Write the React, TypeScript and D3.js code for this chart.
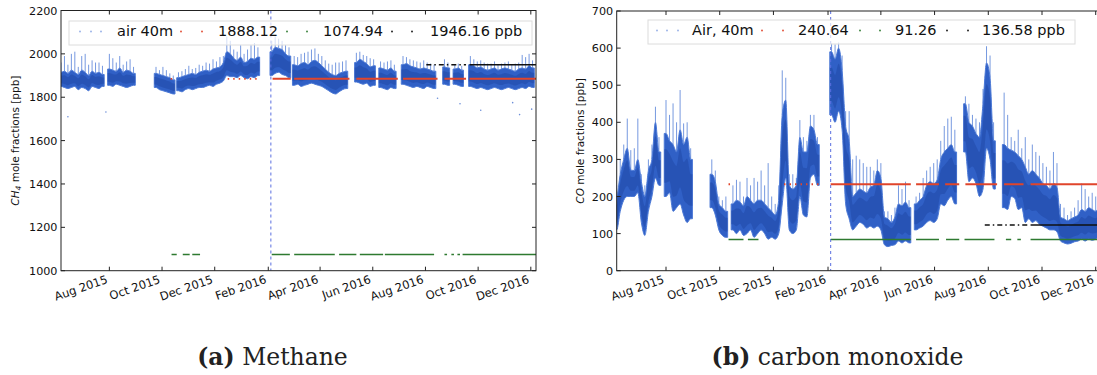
import React from "react";
import * as d3 from "d3";

// ---------- data ----------
const dateDomain = ["2015-06-06", "2016-12-07"];
const monthTicks = ["2015-08-01", "2015-10-01", "2015-12-01", "2016-02-01", "2016-04-01", "2016-06-01", "2016-08-01", "2016-10-01", "2016-12-01"];
const monthLabels = ["Aug 2015", "Oct 2015", "Dec 2015", "Feb 2016", "Apr 2016", "Jun 2016", "Aug 2016", "Oct 2016", "Dec 2016"];
const ch4Ticks = [1000, 1200, 1400, 1600, 1800, 2000, 2200];
const coTicks = [0, 100, 200, 300, 400, 500, 600, 700];
const markerDate = "2016-02-04";

const ch4Legend = ["air 40m", "1888.12", "1074.94", "1946.16 ppb"];
const coLegend = ["Air, 40m", "240.64", "91.26", "136.58 ppb"];

// reference levels as drawn [red, green, black]
const ch4Levels = [1885, 1075, 1950];
const coLevels = [233, 84, 123];

// [date, low, high, peak]
const ch4Air: [string, number, number, number][] = [
  ["2015-06-06", 1850, 1915, 1960], ["2015-06-10", 1845, 1920, 1990], ["2015-06-14", 1840, 1910, 1950],
  ["2015-06-18", 1845, 1925, 2000], ["2015-06-22", 1850, 1915, 2010], ["2015-06-26", 1835, 1905, 1940],
  ["2015-06-30", 1845, 1925, 1990], ["2015-07-04", 1840, 1915, 2000], ["2015-07-08", 1830, 1900, 1950],
  ["2015-07-12", 1850, 1920, 1970], ["2015-07-16", 1845, 1910, 1960], ["2015-07-20", 1840, 1915, 1960],
  ["2015-07-24", 1850, 1905, 1945],
  ["2015-08-01", 1855, 1930, 2000], ["2015-08-05", 1850, 1925, 1980], ["2015-08-09", 1860, 1920, 1960],
  ["2015-08-13", 1855, 1935, 1990], ["2015-08-17", 1850, 1915, 1950], ["2015-08-21", 1845, 1925, 1965],
  ["2015-08-25", 1850, 1920, 1975], ["2015-08-29", 1855, 1910, 1940],
  ["2015-09-24", 1845, 1910, 1940], ["2015-09-28", 1835, 1905, 1925], ["2015-10-02", 1830, 1900, 1940],
  ["2015-10-06", 1825, 1895, 1925], ["2015-10-10", 1820, 1890, 1910], ["2015-10-14", 1815, 1880, 1900],
  ["2015-10-20", 1830, 1890, 1915], ["2015-10-24", 1825, 1895, 1920], ["2015-10-28", 1835, 1900, 1930],
  ["2015-11-01", 1840, 1905, 1945], ["2015-11-05", 1835, 1910, 1930], ["2015-11-09", 1840, 1905, 1935],
  ["2015-11-13", 1845, 1915, 1950], ["2015-11-17", 1845, 1920, 1945], ["2015-11-21", 1850, 1925, 1960],
  ["2015-11-25", 1855, 1920, 1955], ["2015-11-29", 1850, 1930, 1975], ["2015-12-03", 1860, 1935, 1965],
  ["2015-12-07", 1865, 1940, 1985], ["2015-12-11", 1875, 1960, 1990], ["2015-12-15", 1900, 2010, 2080],
  ["2015-12-19", 1895, 2000, 2060], ["2015-12-23", 1895, 1980, 2020], ["2015-12-27", 1890, 1970, 2010],
  ["2015-12-31", 1900, 1985, 2040], ["2016-01-04", 1890, 1960, 2000], ["2016-01-08", 1885, 1965, 2020],
  ["2016-01-12", 1895, 1980, 2040], ["2016-01-16", 1890, 1975, 2050], ["2016-01-20", 1900, 1985, 2030],
  ["2016-02-05", 1900, 2010, 2060], ["2016-02-09", 1910, 2030, 2080], ["2016-02-13", 1915, 2025, 2070],
  ["2016-02-17", 1905, 2020, 2060], ["2016-02-21", 1900, 2000, 2040], ["2016-02-25", 1890, 1990, 2030],
  ["2016-03-02", 1855, 1950, 1990], ["2016-03-06", 1860, 1945, 1985], ["2016-03-10", 1850, 1955, 2000],
  ["2016-03-14", 1855, 1960, 2005], ["2016-03-18", 1860, 1950, 2010], ["2016-03-22", 1865, 1965, 2020],
  ["2016-03-26", 1860, 1970, 2025], ["2016-03-30", 1855, 1960, 2000], ["2016-04-03", 1850, 1945, 1990],
  ["2016-04-07", 1840, 1930, 1970], ["2016-04-11", 1830, 1915, 1955], ["2016-04-15", 1820, 1905, 1950],
  ["2016-04-19", 1815, 1900, 1960], ["2016-04-23", 1825, 1910, 1960], ["2016-04-27", 1835, 1915, 1965],
  ["2016-05-01", 1840, 1920, 1970],
  ["2016-05-13", 1870, 1960, 2005], ["2016-05-17", 1865, 1975, 2010], ["2016-05-21", 1860, 1965, 1995],
  ["2016-05-25", 1865, 1955, 1990], ["2016-05-29", 1850, 1940, 1980], ["2016-06-02", 1855, 1945, 1975],
  ["2016-06-10", 1845, 1935, 1965], ["2016-06-14", 1840, 1930, 1960], ["2016-06-18", 1835, 1925, 1965],
  ["2016-06-22", 1845, 1935, 1970], ["2016-06-26", 1840, 1920, 1950],
  ["2016-07-06", 1860, 1950, 1990], ["2016-07-10", 1855, 1955, 1985], ["2016-07-14", 1850, 1945, 1975],
  ["2016-07-18", 1845, 1940, 1970], ["2016-07-22", 1850, 1935, 1965], ["2016-07-26", 1845, 1930, 1960],
  ["2016-07-30", 1840, 1935, 1970], ["2016-08-03", 1850, 1930, 1960], ["2016-08-07", 1845, 1925, 1955],
  ["2016-08-11", 1840, 1920, 1950],
  ["2016-08-23", 1860, 1940, 1975], ["2016-08-27", 1855, 1935, 1960],
  ["2016-09-04", 1860, 1930, 1950], ["2016-09-08", 1855, 1935, 1955], ["2016-09-12", 1850, 1925, 1945],
  ["2016-09-22", 1850, 1950, 1990], ["2016-09-26", 1845, 1945, 1975], ["2016-09-30", 1840, 1935, 1965],
  ["2016-10-04", 1845, 1940, 1970], ["2016-10-08", 1840, 1930, 1960], ["2016-10-12", 1835, 1925, 1955],
  ["2016-10-16", 1840, 1930, 1955], ["2016-10-20", 1845, 1935, 1965], ["2016-10-24", 1840, 1925, 1950],
  ["2016-10-28", 1835, 1930, 1955], ["2016-11-01", 1840, 1935, 1960], ["2016-11-05", 1845, 1930, 1965],
  ["2016-11-09", 1840, 1925, 1950], ["2016-11-13", 1835, 1920, 1955], ["2016-11-17", 1840, 1930, 1960],
  ["2016-11-21", 1845, 1935, 1995], ["2016-11-25", 1840, 1930, 1985], ["2016-11-29", 1850, 1945, 2000],
  ["2016-12-03", 1845, 1935, 1970],
];

const ch4Outliers: [string, number][] = [
  ["2015-06-14", 1710], ["2015-07-28", 1732], ["2016-08-15", 1795], ["2016-09-10", 1770],
  ["2016-10-04", 1740], ["2016-11-10", 1775], ["2016-11-18", 1720], ["2016-12-02", 1745],
];

const coAir: [string, number, number, number][] = [
  ["2015-06-06", 110, 200, 230], ["2015-06-10", 160, 260, 300], ["2015-06-14", 190, 300, 340],
  ["2015-06-18", 200, 330, 410], ["2015-06-22", 200, 271, 325], ["2015-06-26", 200, 270, 330],
  ["2015-06-30", 210, 300, 410], ["2015-07-04", 130, 240, 260], ["2015-07-08", 95, 200, 230],
  ["2015-07-12", 160, 270, 300], ["2015-07-16", 200, 300, 340], ["2015-07-20", 250, 400, 442],
  ["2015-07-24", 230, 320, 360],
  ["2015-08-01", 200, 370, 460], ["2015-08-05", 210, 350, 420], ["2015-08-09", 160, 340, 451],
  ["2015-08-13", 170, 320, 400], ["2015-08-17", 180, 380, 487], ["2015-08-21", 150, 340, 397],
  ["2015-08-25", 130, 360, 400], ["2015-08-29", 140, 300, 330],
  ["2015-09-22", 170, 260, 300], ["2015-09-26", 150, 240, 270], ["2015-09-30", 110, 180, 200],
  ["2015-10-04", 95, 170, 190], ["2015-10-08", 90, 160, 200],
  ["2015-10-16", 110, 180, 230], ["2015-10-20", 100, 190, 245], ["2015-10-24", 110, 185, 240],
  ["2015-10-28", 95, 175, 200], ["2015-11-01", 100, 200, 250], ["2015-11-05", 110, 190, 230],
  ["2015-11-09", 90, 180, 250], ["2015-11-13", 100, 190, 240], ["2015-11-17", 110, 190, 270],
  ["2015-11-21", 100, 180, 230], ["2015-11-25", 85, 170, 290], ["2015-11-29", 90, 160, 200],
  ["2015-12-03", 85, 150, 180], ["2015-12-07", 100, 190, 230], ["2015-12-11", 180, 420, 540],
  ["2015-12-15", 250, 460, 520], ["2015-12-19", 110, 230, 260], ["2015-12-23", 100, 220, 260],
  ["2015-12-27", 110, 230, 250], ["2015-12-31", 200, 360, 406], ["2016-01-04", 150, 320, 360],
  ["2016-01-08", 145, 320, 350], ["2016-01-12", 250, 390, 420], ["2016-01-16", 260, 380, 420],
  ["2016-01-20", 230, 340, 360],
  ["2016-02-05", 420, 590, 613], ["2016-02-09", 400, 570, 610], ["2016-02-13", 430, 600, 615],
  ["2016-02-17", 380, 540, 580], ["2016-02-21", 180, 390, 430], ["2016-02-25", 140, 350, 430],
  ["2016-02-29", 110, 200, 300], ["2016-03-04", 120, 210, 310], ["2016-03-08", 130, 220, 300],
  ["2016-03-12", 125, 215, 290], ["2016-03-16", 115, 210, 280], ["2016-03-20", 120, 225, 280],
  ["2016-03-24", 115, 230, 270], ["2016-03-28", 120, 270, 300], ["2016-04-01", 110, 250, 290],
  ["2016-04-05", 70, 145, 160], ["2016-04-09", 65, 140, 160], ["2016-04-13", 68, 130, 150],
  ["2016-04-17", 70, 145, 170], ["2016-04-21", 80, 180, 230], ["2016-04-25", 75, 175, 220],
  ["2016-04-29", 80, 185, 240], ["2016-05-03", 75, 170, 190],
  ["2016-05-11", 110, 180, 200], ["2016-05-15", 115, 190, 210], ["2016-05-19", 120, 200, 250],
  ["2016-05-23", 130, 230, 270], ["2016-05-27", 135, 240, 280], ["2016-05-31", 130, 235, 290],
  ["2016-06-04", 140, 245, 300], ["2016-06-08", 180, 300, 350], ["2016-06-12", 175, 320, 390],
  ["2016-06-16", 190, 330, 410], ["2016-06-20", 200, 340, 415], ["2016-06-24", 180, 320, 380],
  ["2016-07-06", 320, 450, 470], ["2016-07-10", 240, 400, 450], ["2016-07-14", 250, 390, 420],
  ["2016-07-18", 235, 370, 410], ["2016-07-22", 200, 360, 400], ["2016-07-26", 220, 450, 490],
  ["2016-07-30", 330, 560, 605], ["2016-08-03", 300, 520, 580], ["2016-08-07", 220, 350, 400],
  ["2016-08-19", 170, 340, 480], ["2016-08-23", 165, 330, 420], ["2016-08-27", 200, 325, 360],
  ["2016-08-31", 195, 320, 350], ["2016-09-04", 165, 310, 380], ["2016-09-08", 170, 300, 330],
  ["2016-09-12", 130, 280, 360], ["2016-09-16", 140, 260, 300], ["2016-09-20", 130, 270, 340],
  ["2016-09-24", 135, 260, 320], ["2016-09-28", 125, 250, 310], ["2016-10-02", 120, 235, 290],
  ["2016-10-06", 115, 230, 280], ["2016-10-10", 110, 220, 270], ["2016-10-14", 110, 235, 320],
  ["2016-10-18", 105, 225, 290], ["2016-10-22", 80, 145, 180], ["2016-10-26", 75, 140, 170],
  ["2016-10-30", 72, 135, 150], ["2016-11-03", 74, 140, 160], ["2016-11-07", 78, 145, 170],
  ["2016-11-11", 80, 150, 190], ["2016-11-15", 85, 165, 235], ["2016-11-19", 80, 160, 220],
  ["2016-11-23", 85, 170, 200], ["2016-11-27", 82, 165, 210], ["2016-12-01", 85, 160, 200],
  ["2016-12-05", 90, 170, 190],
];

// level segments [start, end]
const ch4RedSolid: [string, string][] = [
  ["2016-02-06", "2016-02-27"], ["2016-03-02", "2016-05-05"], ["2016-05-13", "2016-06-30"],
  ["2016-07-06", "2016-08-15"], ["2016-08-23", "2016-09-17"], ["2016-09-21", "2016-12-07"],
];
const ch4RedSparse: [string, string][] = [["2015-10-11", "2015-10-16"], ["2015-12-16", "2016-01-23"]];
const ch4GreenSolid: [string, string][] = [
  ["2015-10-12", "2015-10-18"], ["2015-10-25", "2015-11-02"], ["2015-11-05", "2015-11-14"],
  ["2016-02-05", "2016-02-26"], ["2016-03-02", "2016-04-18"], ["2016-04-23", "2016-05-13"],
  ["2016-05-17", "2016-06-13"], ["2016-06-15", "2016-08-11"], ["2016-08-23", "2016-08-26"],
  ["2016-08-31", "2016-09-03"], ["2016-09-07", "2016-09-10"], ["2016-09-13", "2016-12-07"],
];
const ch4BlackSolid: [string, string][] = [["2016-09-21", "2016-12-07"]];
const ch4BlackSparse: [string, string][] = [["2016-08-02", "2016-09-17"]];

const coRedSolid: [string, string][] = [
  ["2016-02-04", "2016-05-05"], ["2016-05-11", "2016-06-06"], ["2016-06-13", "2016-06-29"],
  ["2016-07-06", "2016-08-11"], ["2016-08-19", "2016-09-10"], ["2016-09-18", "2016-12-07"],
];
const coRedSparse: [string, string][] = [["2015-10-11", "2015-10-14"], ["2015-12-13", "2016-01-24"]];
const coGreenSolid: [string, string][] = [
  ["2015-10-11", "2015-10-28"], ["2015-11-02", "2015-11-14"], ["2016-02-04", "2016-05-05"],
  ["2016-05-11", "2016-06-06"], ["2016-06-14", "2016-06-29"], ["2016-07-05", "2016-08-08"],
  ["2016-08-21", "2016-08-27"], ["2016-09-03", "2016-09-07"], ["2016-09-18", "2016-12-07"],
];
const coBlackSolid: [string, string][] = [["2016-09-18", "2016-12-07"]];
const coBlackSparse: [string, string][] = [["2016-07-28", "2016-09-15"]];

// ---------- drawing ----------
const parse = d3.timeParse("%Y-%m-%d");
const DAY = 86400000;
const BLUE = "#3060c6";
const CORE = "#2148a8";
const RED = "#e0452b";
const GREEN = "#2e7a30";
const BLACK = "#111";
const AX = "#222";

type Bin = [string, number, number, number];
type Pt = { t: Date; lo: number; hi: number; pk: number };

function toSegments(bins: Bin[]): Pt[][] {
  const out: Pt[][] = [];
  let cur: Pt[] = [];
  bins.forEach((b) => {
    const t = parse(b[0]) as Date;
    if (cur.length && +t - +cur[cur.length - 1].t > 5 * DAY) {
      out.push(cur);
      cur = [];
    }
    cur.push({ t, lo: b[1], hi: b[2], pk: b[3] });
  });
  if (cur.length) out.push(cur);
  return out.map((s) => [
    { ...s[0], t: new Date(+s[0].t - 2 * DAY) },
    ...s,
    { ...s[s.length - 1], t: new Date(+s[s.length - 1].t + 2 * DAY) },
  ]);
}

type PanelProps = {
  id: string;
  x0: number; x1: number; y0: number; y1: number;
  yDomain: [number, number];
  yTicks: number[];
  air: Bin[];
  outliers: [string, number][];
  levels: number[];
  redSolid: [string, string][]; redSparse: [string, string][];
  greenSolid: [string, string][];
  blackSolid: [string, string][]; blackSparse: [string, string][];
  legend: string[];
  legendBox: [number, number, number, number];
  legendTextX: number[];
  legendDots: number[][];
  legendBaseline: number;
  yTitle: React.ReactNode;
  yTitleX: number;
  caption: [string, string];
  captionX: number;
};

function Panel(p: PanelProps) {
  const x = d3.scaleTime().domain(dateDomain.map((d) => parse(d) as Date)).range([p.x0, p.x1]);
  const y = d3.scaleLinear().domain(p.yDomain).range([p.y1, p.y0]);
  const segs = toSegments(p.air);
  const area = d3.area<Pt>().x((d) => x(d.t)).y0((d) => y(d.lo)).y1((d) => y(d.hi)).curve(d3.curveMonotoneX);
  const core = d3.area<Pt>().x((d) => x(d.t))
    .y0((d) => y(d.lo + (d.hi - d.lo) * 0.22)).y1((d) => y(d.hi - (d.hi - d.lo) * 0.25)).curve(d3.curveMonotoneX);
  const seg = (list: [string, string][], level: number, color: string, w: number, dash?: string) =>
    list.map(([a, b], i) => (
      <line key={color + level + i + (dash || "")} x1={x(parse(a) as Date)} x2={x(parse(b) as Date)} y1={y(level)} y2={y(level)}
        stroke={color} strokeWidth={w} strokeDasharray={dash} />
    ));
  const legendColors = ["#5b84d8", RED, GREEN, BLACK];
  const mx = x(parse(markerDate) as Date);
  return (
    <g>
      <defs>
        <clipPath id={"clip" + p.id}>
          <rect x={p.x0} y={p.y0} width={p.x1 - p.x0} height={p.y1 - p.y0} />
        </clipPath>
      </defs>
      <g clipPath={`url(#clip${p.id})`}>
        {segs.map((s) =>
          s.slice(1, -1).map((d, j) => (
            <line key={"pk" + +d.t + j} x1={x(d.t)} x2={x(d.t)} y1={y(d.hi)} y2={y(d.pk)} stroke="#4a78d6" strokeWidth={1} opacity={0.75} />
          ))
        )}
        {segs.map((s, i) => (
          <path key={"a" + i} d={area(s) || ""} fill={BLUE} stroke="#4d7ad6" strokeWidth={1} strokeLinejoin="round" />
        ))}
        {segs.map((s, i) => (
          <path key={"c" + i} d={core(s) || ""} fill={CORE} opacity={0.55} />
        ))}
        {p.outliers.map(([t, v], i) => (
          <circle key={"o" + i} cx={x(parse(t) as Date)} cy={y(v)} r={0.8} fill="#6d8fd8" />
        ))}
        {seg(p.redSolid, p.levels[0], RED, 2)}
        {seg(p.redSparse, p.levels[0], RED, 1.8, "1.5,4")}
        {seg(p.greenSolid, p.levels[1], GREEN, 1.6)}
        {seg(p.blackSolid, p.levels[2], BLACK, 1.5)}
        {seg(p.blackSparse, p.levels[2], BLACK, 1.4, "5,3,1.5,3")}
        <line x1={mx} x2={mx} y1={p.y0} y2={p.y1} stroke="#5a6ee0" strokeWidth={1} strokeDasharray="3,3" />
      </g>
      {/* legend */}
      <rect x={p.legendBox[0]} y={p.legendBox[1]} width={p.legendBox[2]} height={p.legendBox[3]} fill="white" fillOpacity={0.7} stroke="#dcdcdc" strokeWidth={1} />
      {p.legend.map((lab, i) => (
        <g key={"lg" + i}>
          {p.legendDots[i].map((dx, j) => (
            <circle key={j} cx={dx} cy={p.legendBaseline - 4.5} r={1} fill={legendColors[i]} opacity={i === 0 ? 0.6 : 0.9} />
          ))}
          <text x={p.legendTextX[i]} y={p.legendBaseline} fontFamily="DejaVu Sans" fontSize={14.5} fill="#111">{lab}</text>
        </g>
      ))}
      {/* frame */}
      <rect x={p.x0} y={p.y0} width={p.x1 - p.x0} height={p.y1 - p.y0} fill="none" stroke={AX} strokeWidth={1} />
      {p.yTicks.map((t) => (
        <g key={"yt" + t}>
          <line x1={p.x0} x2={p.x0 + 4} y1={y(t)} y2={y(t)} stroke={AX} />
          <line x1={p.x1} x2={p.x1 - 4} y1={y(t)} y2={y(t)} stroke={AX} />
          <text x={p.x0 - 3.5} y={y(t)} dy="0.36em" textAnchor="end" fontFamily="DejaVu Sans" fontSize={11.2} fill="#111">{t}</text>
        </g>
      ))}
      {monthTicks.map((m, i) => {
        const tx = x(parse(m) as Date);
        return (
          <g key={"xt" + m}>
            <line x1={tx} x2={tx} y1={p.y1} y2={p.y1 - 4} stroke={AX} />
            <line x1={tx} x2={tx} y1={p.y0} y2={p.y0 + 4} stroke={AX} />
            <text transform={`translate(${tx - 1},${p.y1 + 12})rotate(-19)`} textAnchor="end" fontFamily="DejaVu Sans" fontSize={11.5} fill="#111">{monthLabels[i]}</text>
          </g>
        );
      })}
      <text transform={`translate(${p.yTitleX},${(p.y0 + p.y1) / 2}) rotate(-90)`} textAnchor="middle" fontFamily="DejaVu Sans" fontSize={10.5} fill="#111">{p.yTitle}</text>
      <text x={p.captionX} y={365} textAnchor="middle" fontFamily="DejaVu Serif" fontSize={23.5} fill="#222">
        <tspan fontWeight="bold">{p.caption[0]}</tspan>
        <tspan>{" " + p.caption[1]}</tspan>
      </text>
    </g>
  );
}

export default function App() {
  return (
    <svg width={1097} height={375} style={{ position: "absolute", left: 0, top: 0, background: "white" }}>
      <rect width={1097} height={375} fill="white" />
      <Panel
        id="a" x0={61} x1={536} y0={10.5} y1={270.7} yDomain={[1000, 2200]} yTicks={ch4Ticks}
        air={ch4Air} outliers={ch4Outliers} levels={ch4Levels}
        redSolid={ch4RedSolid} redSparse={ch4RedSparse} greenSolid={ch4GreenSolid}
        blackSolid={ch4BlackSolid} blackSparse={ch4BlackSparse}
        legend={ch4Legend} legendBox={[69, 21, 463, 24]} legendTextX={[117, 218, 323, 430]}
        legendDots={[[80, 91, 101], [181, 202], [287, 307], [392, 412]]} legendBaseline={36}
        yTitle={<><tspan fontStyle="italic">CH</tspan><tspan fontSize={7.5} dy={2.5} fontStyle="italic">4</tspan><tspan dy={-2.5}> mole fractions [ppb]</tspan></>}
        yTitleX={18.5} caption={["(a)", "Methane"]} captionX={272.5}
      />
      <Panel
        id="b" x0={616.7} x1={1101} y0={11} y1={270.7} yDomain={[0, 700]} yTicks={coTicks}
        air={coAir} outliers={[]} levels={coLevels}
        redSolid={coRedSolid} redSparse={coRedSparse} greenSolid={coGreenSolid}
        blackSolid={coBlackSolid} blackSparse={coBlackSparse}
        legend={coLegend} legendBox={[648, 20, 427, 24]} legendTextX={[692, 798, 895, 982]}
        legendDots={[[657, 667, 678], [762, 783], [860, 880], [947, 968]]} legendBaseline={35}
        yTitle={<><tspan fontStyle="italic">CO</tspan><tspan> mole fractions [ppb]</tspan></>}
        yTitleX={583.5} caption={["(b)", "carbon monoxide"]} captionX={837.5}
      />
    </svg>
  );
}
